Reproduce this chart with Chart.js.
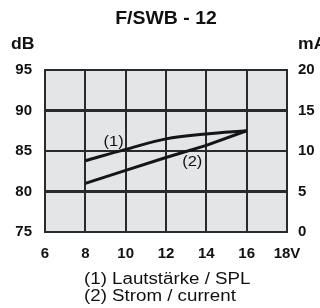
<!DOCTYPE html>
<html lang="de">
<head>
<meta charset="UTF-8">
<title>F/SWB - 12</title>
<script src="https://cdn.jsdelivr.net/npm/chart.js"></script>
<style>
  html, body { margin: 0; padding: 0; background: #fff; }
  canvas { display: block; }
</style>
</head>
<body>
<canvas id="chart" width="320" height="308"></canvas>
<script>
// values
const voltage = [8, 10, 12, 14, 16];
const spl = [83.8, 85.2, 86.5, 87.1, 87.5];       // (1) dB, left axis
const current = [6.0, 7.6, 9.2, 10.7, 12.5];      // (2) mA, right axis
const curveTags = ['(1)', '(2)'];
const tagAt = [[9.4, 86.1], [13.3, 83.6]];         // in volts / dB
const legendLines = ['(1) Lautstärke / SPL', '(2) Strom / current'];

const ink = '#2a2a2a';
const font = 'Liberation Sans, Arial, sans-serif';

// the scan is a bit wider than the font, so stretch the free text
function wideText(ctx, txt, x, y, sx) {
  ctx.save();
  ctx.translate(x, y);
  ctx.scale(sx, 1);
  ctx.fillText(txt, 0, 0);
  ctx.restore();
}

const paperPlugin = {
  id: 'paper',
  beforeDraw(chart) {
    const { ctx, chartArea: a } = chart;
    ctx.save();
    ctx.fillStyle = '#e4e5e7';
    ctx.fillRect(a.left, a.top, a.right - a.left, a.bottom - a.top);
    ctx.restore();
  },
  afterDraw(chart) {
    const { ctx, scales } = chart;
    ctx.save();
    ctx.fillStyle = '#111';
    ctx.textBaseline = 'middle';
    ctx.textAlign = 'center';
    ctx.font = 'bold 18px ' + font;
    wideText(ctx, 'F/SWB - 12', 166, 19, 1.08);
    ctx.font = 'bold 16px ' + font;
    ctx.textAlign = 'left';
    wideText(ctx, 'dB', 11, 45, 1.1);
    wideText(ctx, 'mA', 298, 45, 1.1);
    ctx.font = '15px ' + font;
    ctx.textAlign = 'center';
    curveTags.forEach((t, i) => {
      wideText(ctx, t, scales.x.getPixelForValue(tagAt[i][0]), scales.y.getPixelForValue(tagAt[i][1]), 1.1);
    });
    ctx.font = '16px ' + font;
    ctx.textAlign = 'left';
    legendLines.forEach((t, i) => wideText(ctx, t, 84, 280 + i * 17, 1.17));
    ctx.restore();
  }
};

new Chart(document.getElementById('chart'), {
  type: 'line',
  data: {
    labels: voltage,
    datasets: [
      { data: voltage.map((v, i) => ({ x: v, y: spl[i] })), yAxisID: 'y',
        borderColor: '#151515', borderWidth: 3, tension: 0.35, pointRadius: 0 },
      { data: voltage.map((v, i) => ({ x: v, y: current[i] })), yAxisID: 'y2',
        borderColor: '#151515', borderWidth: 3, tension: 0, pointRadius: 0 }
    ]
  },
  options: {
    responsive: false,
    animation: false,
    layout: { padding: { top: 70, right: 0, left: 0, bottom: 0 } },
    plugins: { legend: { display: false }, tooltip: { enabled: false } },
    scales: {
      x: {
        type: 'linear', min: 6, max: 18,
        afterFit: s => { s.height = 76; },
        ticks: { stepSize: 2, padding: 13, color: '#111',
          font: { family: font, size: 15, weight: 'bold' },
          callback: v => v === 18 ? '18V' : v },
        grid: { color: ink, lineWidth: 2, drawTicks: false },
        border: { color: ink, width: 2 }
      },
      y: {
        position: 'left', min: 75, max: 95,
        afterFit: s => { s.width = 45; },
        ticks: { stepSize: 5, padding: 13, color: '#111',
          font: { family: font, size: 15, weight: 'bold' } },
        grid: { color: ink, drawTicks: false,
          lineWidth: c => (c.tick && (c.tick.value === 90 || c.tick.value === 80)) ? 3 : 2 },
        border: { color: ink, width: 2 }
      },
      y2: {
        position: 'right', min: 0, max: 20,
        afterFit: s => { s.width = 33; },
        ticks: { stepSize: 5, padding: 11, color: '#111',
          font: { family: font, size: 15, weight: 'bold' } },
        grid: { display: false, drawTicks: false },
        border: { color: ink, width: 2 }
      }
    }
  },
  plugins: [paperPlugin]
});
</script>
</body>
</html>
